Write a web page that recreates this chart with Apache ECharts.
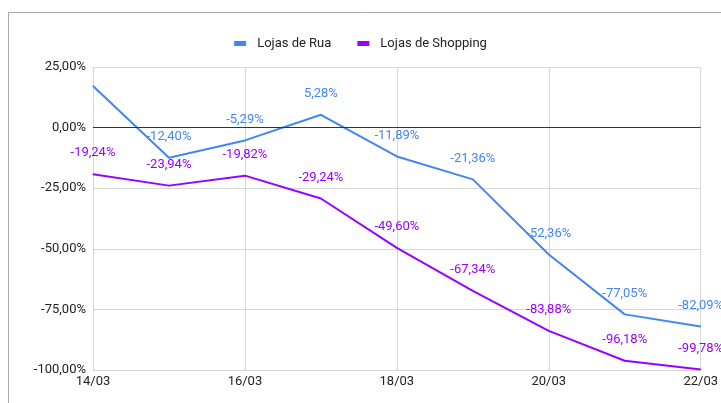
<!DOCTYPE html>
<html><head><meta charset="utf-8">
<script src="https://cdn.jsdelivr.net/npm/echarts@6/dist/echarts.min.js"></script>
<style>html,body{margin:0;padding:0;background:#fff}#c{width:721px;height:403px}</style>
</head><body><div id="c"></div>
<script>
const categories = ['14/03','15/03','16/03','17/03','18/03','19/03','20/03','21/03','22/03'];
const ruaValues = [17.2, -12.40, -5.29, 5.28, -11.89, -21.36, -52.36, -77.05, -82.09];
const shoppingValues = [-19.24, -23.94, -19.82, -29.24, -49.60, -67.34, -83.88, -96.18, -99.78];
const yTicks = [-100, -75, -50, -25, 0, 25];
const seriesNames = ['Lojas de Rua', 'Lojas de Shopping'];

const fmt = v => v.toFixed(2).replace('.', ',') + '%';
const chart = echarts.init(document.getElementById('c'));
const font = 'Roboto, "Liberation Sans", Arial, sans-serif';

function mk(vals, hideFirst) {
  return vals.map((v, i) => (hideFirst && i === 0) ? {value: v, label: {show: false}} : v);
}

chart.setOption({
  animation: false,
  graphic: [{type: 'rect', shape: {x: 8.5, y: 12.5, width: 800, height: 500}, style: {fill: 'none', stroke: '#a8a8a8', lineWidth: 1}, silent: true, z: -1}],
  legend: {
    top: 32, left: 'center', itemWidth: 12, itemHeight: 5, itemGap: 26,
    icon: 'rect',
    textStyle: {fontFamily: font, fontSize: 13, color: '#222', padding: [0, 0, 0, 6]},
    data: [
      {name: seriesNames[0], itemStyle: {color: '#4285f4', opacity: 1}},
      {name: seriesNames[1], itemStyle: {color: '#9900ff', opacity: 1}}
    ]
  },
  grid: {left: 93, right: 17, top: 67, bottom: 33, containLabel: false},
  xAxis: {
    type: 'category', data: categories, boundaryGap: false,
    axisLine: {show: true, lineStyle: {color: '#d6d6d6'}},
    axisTick: {show: false},
    axisLabel: {interval: 1, color: '#222', fontFamily: font, fontSize: 13, margin: 5},
    splitLine: {show: true, interval: 1, lineStyle: {color: '#d6d6d6', width: 1}}
  },
  yAxis: {
    type: 'value', min: -100, max: 25, interval: 25,
    axisLine: {show: false}, axisTick: {show: false},
    axisLabel: {color: '#222', fontFamily: font, fontSize: 13, margin: 7, formatter: v => yTicks.includes(v) ? fmt(v) : ''},
    splitLine: {lineStyle: {color: '#d6d6d6', width: 1}}
  },
  series: [
    {
      name: seriesNames[0], type: 'line', data: mk(ruaValues, true),
      symbol: 'circle', symbolSize: 1, showSymbol: true, showAllSymbol: true,
      lineStyle: {color: '#4285f4', width: 2}, itemStyle: {color: '#4285f4'},
      label: {show: true, position: 'top', distance: 14, color: '#4285f4', fontFamily: font, fontSize: 13, formatter: p => fmt(p.value)},
      labelLayout: {hideOverlap: false},
      markLine: {silent: true, symbol: 'none', label: {show: false}, lineStyle: {color: '#333', width: 1, type: 'solid'}, data: [{yAxis: 0}]},
      z: 3
    },
    {
      name: seriesNames[1], type: 'line', data: mk(shoppingValues, false),
      symbol: 'circle', symbolSize: 1, showSymbol: true, showAllSymbol: true,
      lineStyle: {color: '#9900ff', width: 2}, itemStyle: {color: '#9900ff'},
      label: {show: true, position: 'top', distance: 14, color: '#9900ff', fontFamily: font, fontSize: 13, formatter: p => fmt(p.value)},
      labelLayout: {hideOverlap: false},
      z: 3
    }
  ]
});
</script></body></html>
